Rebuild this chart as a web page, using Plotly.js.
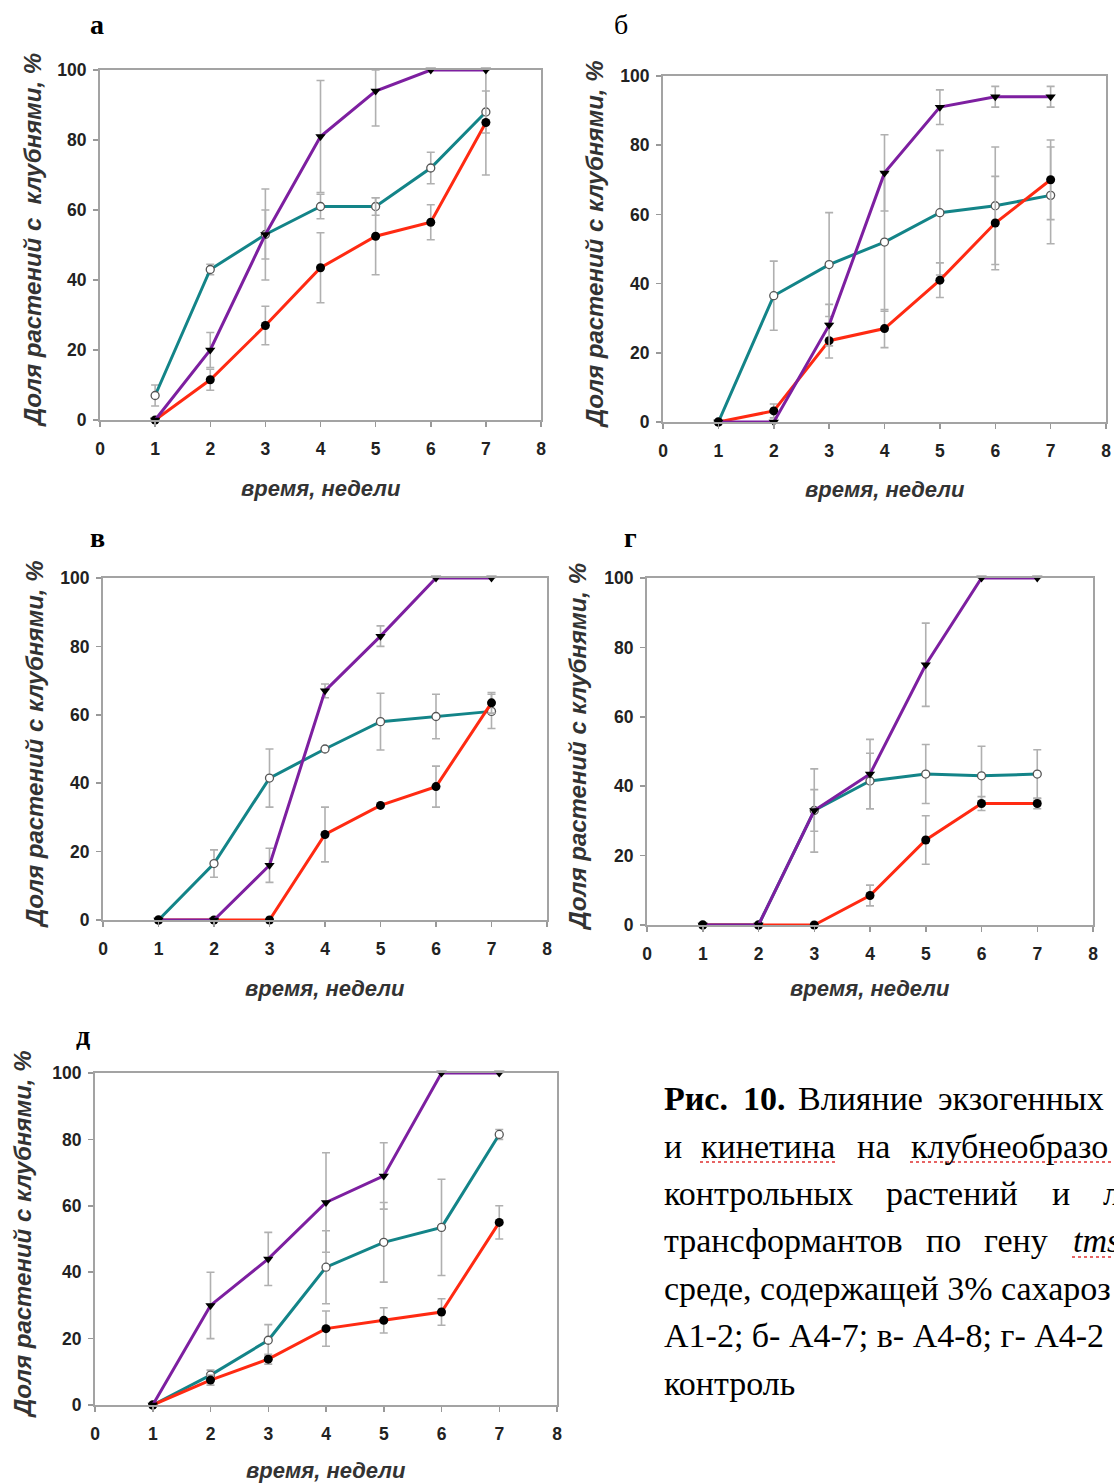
<!DOCTYPE html>
<html>
<head>
<meta charset="utf-8">
<script src="https://cdn.plot.ly/plotly-3.0.1.min.js"></script>
<style>html,body{margin:0;padding:0;background:#fff;}#chart{width:1114px;height:1483px;}</style>
</head>
<body>
<div id="chart"></div>
<script>
// ---------------- DATA ----------------
const weeks = [1, 2, 3, 4, 5, 6, 7];
const xTicks = [0, 1, 2, 3, 4, 5, 6, 7, 8];
const yTicks = [0, 20, 40, 60, 80, 100];

// panel а
const a_purple = [0, 20, 53, 81, 94, 100, 100];
const a_purpleErrUp = [0, 5, 13, 16, 6, 0, 0];
const a_purpleErrDn = [0, 5, 13, 16, 10, 0, 0];
const a_teal = [7, 43, 53, 61, 61, 72, 88];
const a_tealErr = [3, 1.5, 7, 3.5, 2.5, 4.5, 6];
const a_red = [0, 11.5, 27, 43.5, 52.5, 56.5, 85];
const a_redErrUp = [0, 3, 5.5, 10, 11, 5, 15];
const a_redErrDn = [0, 3, 5.5, 10, 11, 5, 15];

// panel б
const b_purple = [0, 0, 28, 72, 91, 94, 94];
const b_purpleErrUp = [0, 0, 6, 11, 5, 3, 3];
const b_purpleErrDn = [0, 0, 6, 11, 5, 3, 3];
const b_teal = [0, 36.5, 45.5, 52, 60.5, 62.5, 65.5];
const b_tealErr = [0, 10, 15, 20, 18, 17, 14];
const b_red = [0, 3.2, 23.5, 27, 41, 57.5, 70];
const b_redErrUp = [0, 2, 5, 5.5, 5, 13.5, 11.5];
const b_redErrDn = [0, 2, 5, 5.5, 5, 13.5, 11.5];

// panel в
const c_purple = [0, 0, 16, 67, 83, 100, 100];
const c_purpleErrUp = [0, 0, 5, 2, 3, 0, 0];
const c_purpleErrDn = [0, 0, 5, 2, 3, 0, 0];
const c_teal = [0, 16.5, 41.5, 50, 58, 59.5, 61];
const c_tealErr = [0, 4, 8.5, 0, 8.3, 6.5, 5];
const c_red = [0, 0, 0, 25, 33.5, 39, 63.5];
const c_redErrUp = [0, 0, 0, 8, 0, 6, 3];
const c_redErrDn = [0, 0, 0, 8, 0, 6, 3];

// panel г
const d_purple = [0, 0, 33, 43.5, 75, 100, 100];
const d_purpleErrUp = [0, 0, 12, 10, 12, 0, 0];
const d_purpleErrDn = [0, 0, 12, 10, 12, 0, 0];
const d_teal = [0, 0, 33, 41.5, 43.5, 43, 43.5];
const d_tealErr = [0, 0, 6, 8, 8.5, 8.5, 7];
const d_red = [0, 0, 0, 8.5, 24.5, 35, 35];
const d_redErrUp = [0, 0, 0, 3, 7, 2, 1.5];
const d_redErrDn = [0, 0, 0, 3, 7, 2, 1.5];

// panel д
const e_purple = [0, 30, 44, 61, 69, 100, 100];
const e_purpleErrUp = [0, 10, 8, 15, 10, 0, 0];
const e_purpleErrDn = [0, 10, 8, 15, 10, 0, 0];
const e_teal = [0, 9, 19.5, 41.5, 49, 53.5, 81.5];
const e_tealErr = [0, 1.5, 4.7, 11, 12, 14.5, 1.5];
const e_red = [0, 7.5, 13.8, 23, 25.5, 28, 55];
const e_redErrUp = [0, 1.5, 1.5, 5.3, 3.8, 4, 5];
const e_redErrDn = [0, 1.5, 1.5, 5.3, 3.8, 4, 5];

const panelLetters = ["а", "б", "в", "г", "д"];
const xTitle = "время, недели";
const yTitles = ["Доля растений с  клубнями, %", "Доля растений с клубнями, %", "Доля растений с клубнями, %", "Доля растений с клубнями, %", "Доля растений с клубнями, %"];

// ---------------- LAYOUT / STYLE ----------------
const W = 1114, H = 1483;
const px = v => v / W;
const py = v => 1 - v / H;

// plot boxes in pixels: [left, right, top, bottom]
const boxes = [
  [100, 541, 70, 420],
  [663, 1106, 76, 422],
  [103, 547, 578, 920],
  [647, 1093, 578, 925],
  [95, 557, 1073, 1405]
];
const letterPos = [[97, 25, true], [621, 24, false], [97, 538, true], [630, 538, true], [83, 1035, true]];
const yTitlePos = [32, 594, 34, 577, 22];
const xTitleY = [488, 490, 988, 988, 1470];

const PURPLE = '#7d1fa0', TEAL = '#138488', RED = '#ff2a12', ERR = '#b0b0b0';

const panels = [
  [a_purple, a_purpleErrUp, a_purpleErrDn, a_teal, a_tealErr, a_red, a_redErrUp, a_redErrDn],
  [b_purple, b_purpleErrUp, b_purpleErrDn, b_teal, b_tealErr, b_red, b_redErrUp, b_redErrDn],
  [c_purple, c_purpleErrUp, c_purpleErrDn, c_teal, c_tealErr, c_red, c_redErrUp, c_redErrDn],
  [d_purple, d_purpleErrUp, d_purpleErrDn, d_teal, d_tealErr, d_red, d_redErrUp, d_redErrDn],
  [e_purple, e_purpleErrUp, e_purpleErrDn, e_teal, e_tealErr, e_red, e_redErrUp, e_redErrDn]
];

const traces = [];
const layout = {
  width: W, height: H,
  margin: {l: 0, r: 0, t: 0, b: 0},
  paper_bgcolor: '#fff', plot_bgcolor: '#fff',
  showlegend: false,
  annotations: [], shapes: []
};

const tickFont = {family: 'Liberation Sans, Arial, sans-serif', size: 17.5, color: '#222', weight: 'bold'};
const xTitleFont = {family: 'Liberation Sans, Arial, sans-serif', size: 22, color: '#333', weight: 'bold', style: 'italic'};
const yTitleFont = {family: 'Liberation Sans, Arial, sans-serif', size: 24, color: '#333', weight: 'bold', style: 'italic'};

panels.forEach((p, i) => {
  const n = i + 1;
  const xa = 'x' + (n === 1 ? '' : n), ya = 'y' + (n === 1 ? '' : n);
  const [purple, pUp, pDn, teal, tErr, red, rUp, rDn] = p;
  const errStyle = {color: ERR, thickness: 1.6, width: 4};
  traces.push({
    x: weeks, y: teal, xaxis: xa, yaxis: ya, type: 'scatter', mode: 'lines+markers', name: 'бирюзовая',
    line: {color: TEAL, width: 3},
    marker: {symbol: 'circle', size: 8, color: '#fff', line: {color: '#555', width: 1.3}},
    error_y: Object.assign({type: 'data', array: tErr, symmetric: true, visible: true}, errStyle),
    cliponaxis: false
  });
  traces.push({
    x: weeks, y: red, xaxis: xa, yaxis: ya, type: 'scatter', mode: 'lines+markers', name: 'красная',
    line: {color: RED, width: 3},
    marker: {symbol: 'circle', size: 9, color: '#000'},
    error_y: Object.assign({type: 'data', array: rUp.map((u, k) => Math.min(u, 100 - red[k])), arrayminus: rDn, symmetric: false, visible: true}, errStyle),
    cliponaxis: false
  });
  traces.push({
    x: weeks, y: purple, xaxis: xa, yaxis: ya, type: 'scatter', mode: 'lines+markers', name: 'фиолетовая',
    line: {color: PURPLE, width: 3},
    marker: {symbol: 'triangle-down', size: 9, color: '#000'},
    error_y: Object.assign({type: 'data', array: pUp, arrayminus: pDn, symmetric: false, visible: true}, errStyle),
    cliponaxis: false
  });

  const [l, r, t, b] = boxes[i];
  layout['xaxis' + (n === 1 ? '' : n)] = {
    domain: [px(l), px(r)], anchor: ya, range: [0, 8],
    tickvals: xTicks, ticktext: xTicks.map(String),
    ticks: 'outside', ticklen: 5, tickwidth: 1.5, tickcolor: '#999',
    showline: true, linecolor: '#a3a3a3', linewidth: 2, mirror: true,
    showgrid: false, zeroline: false, tickfont: tickFont, ticklabelstandoff: 7
  };
  layout['yaxis' + (n === 1 ? '' : n)] = {
    domain: [py(b), py(t)], anchor: xa, range: [0, 100],
    tickvals: yTicks, ticktext: yTicks.map(String),
    ticks: 'outside', ticklen: 5, tickwidth: 1.5, tickcolor: '#999',
    showline: true, linecolor: '#a3a3a3', linewidth: 2, mirror: true,
    showgrid: false, zeroline: false, tickfont: tickFont, ticklabelstandoff: 3
  };

  // panel letter
  layout.annotations.push({
    xref: 'paper', yref: 'paper', x: px(letterPos[i][0]), y: py(letterPos[i][1]),
    xanchor: 'center', yanchor: 'middle', showarrow: false, text: letterPos[i][2] ? '<b>' + panelLetters[i] + '</b>' : panelLetters[i],
    font: {family: 'Liberation Serif, Times New Roman, serif', size: 28, color: '#000'}
  });
  // y title
  layout.annotations.push({
    xref: 'paper', yref: 'paper', x: px(yTitlePos[i]), y: py((t + b) / 2 - 5),
    xanchor: 'center', yanchor: 'middle', showarrow: false, textangle: -90, text: yTitles[i], font: yTitleFont
  });
  // x title
  layout.annotations.push({
    xref: 'paper', yref: 'paper', x: px((l + r) / 2), y: py(xTitleY[i]),
    xanchor: 'center', yanchor: 'middle', showarrow: false, text: xTitle, font: xTitleFont
  });
});

// caption (justified lines built word by word; the reference cuts it at the right edge)
const capFont = {family: 'Liberation Serif, Times New Roman, serif', size: 34, color: '#000'};
const captionWords = [
  [[663, '<b>Рис.</b>'], [742, '<b>10.</b>'], [797, 'Влияние'], [937, 'экзогенных']],
  [[663, 'и'], [700, 'кинетина'], [856, 'на'], [910, 'клубнеобразо']],
  [[663, 'контрольных'], [885, 'растений'], [1051, 'и'], [1102, 'л']],
  [[663, 'трансформантов'], [925, 'по'], [983, 'гену'], [1072, '<i>tms</i>']],
  [[663, 'среде, содержащей 3% сахароз']],
  [[663, 'А1-2; б- А4-7; в- А4-8; г- А4-2']],
  [[663, 'контроль']]
];
const captionY = [1098, 1146, 1193, 1240, 1288, 1335, 1383];
captionWords.forEach((line, li) => {
  line.forEach(([x, w]) => {
    layout.annotations.push({
      xref: 'paper', yref: 'paper', x: px(x), y: py(captionY[li]), xanchor: 'left', yanchor: 'middle',
      showarrow: false, text: w, font: capFont, borderpad: 0
    });
  });
});
// spell-check squiggles
[[700, 835, 1162], [910, 1114, 1162], [1072, 1114, 1257]].forEach(([x0, x1, y]) => {
  layout.shapes.push({type: 'line', xref: 'paper', yref: 'paper', x0: px(x0), x1: px(x1), y0: py(y), y1: py(y),
    line: {color: '#e03030', width: 1.5, dash: 'dot'}});
});

Plotly.newPlot('chart', traces, layout, {staticPlot: true, displayModeBar: false});
</script>
</body>
</html>
